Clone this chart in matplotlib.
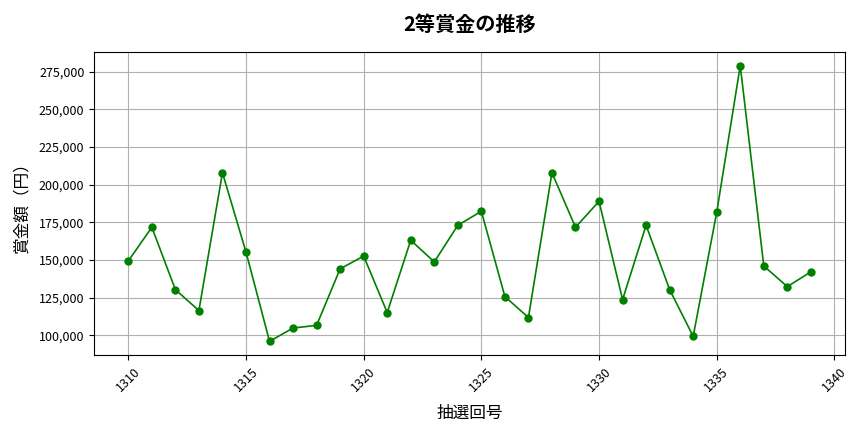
import matplotlib
matplotlib.use("Agg")
import matplotlib.pyplot as plt
from matplotlib.ticker import FuncFormatter

plt.rcParams['font.family'] = ['Noto Sans CJK JP', 'DejaVu Sans']

draws = list(range(1310, 1340))
prizes = [149300, 171700, 130300, 116400, 207900, 155300, 96000, 104800, 106600, 144100,
          152600, 115100, 163100, 148700, 173000, 182300, 125700, 111800, 207900, 171700,
          188900, 123700, 173000, 130300, 99300, 181600, 279000, 146000, 132300, 142100]

fig = plt.figure(figsize=(8.64, 4.32), dpi=100)
ax = fig.add_axes([0.109, 0.178, 0.869, 0.702])
ax.plot(draws, prizes, marker='o', color='green', markersize=5, linewidth=1.2)
ax.set_title('2等賞金の推移', fontsize=14.5, fontweight='bold', pad=15)
ax.set_xlabel('抽選回号', fontsize=12, labelpad=8)
ax.set_ylabel('賞金額（円）', fontsize=12, labelpad=6)
ax.yaxis.set_major_formatter(FuncFormatter(lambda v, p: f'{int(v):,}'))
ax.tick_params(axis='both', labelsize=9)
plt.setp(ax.get_xticklabels(), rotation=45)
ax.grid(True, color='#b0b0b0', linewidth=0.8)
fig.savefig('out.png', dpi=100)
